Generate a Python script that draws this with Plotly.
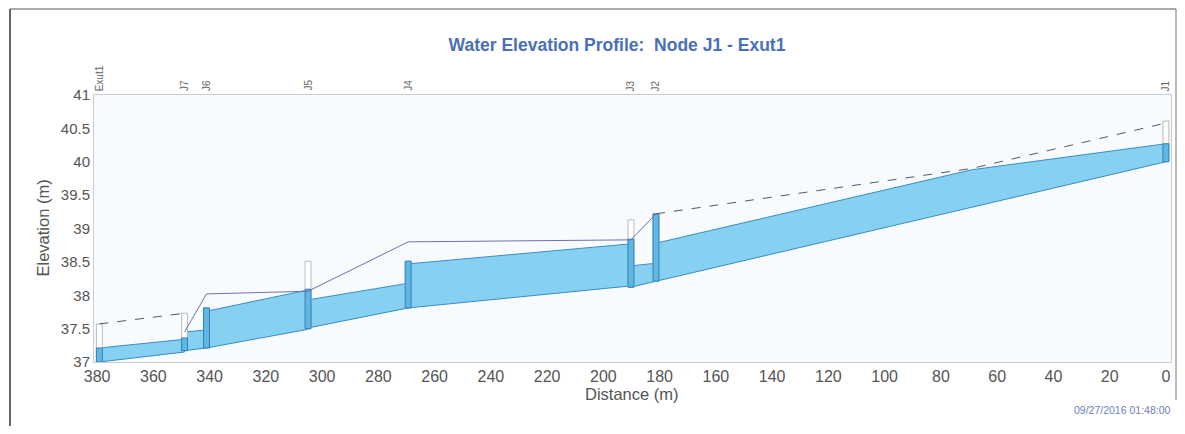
import plotly.graph_objects as go

# ---------------- data ----------------
node_names = ["Exut1", "J7", "J6", "J5", "J4", "J3", "J2", "J1"]
node_dist = [379.2, 348.9, 341.1, 305.0, 269.4, 190.2, 181.3, 0.0]
node_invert = [37.00, 37.17, 37.21, 37.50, 37.81, 38.12, 38.21, 40.00]
node_top = [37.57, 37.73, 37.81, 38.51, 38.51, 39.13, 39.22, 40.61]
node_water = [37.21, 37.36, 37.81, 38.09, 38.51, 38.84, 39.22, 40.27]

# links between consecutive nodes (left node -> right node)
link_inv_left = [37.00, 37.17, 37.21, 37.51, 37.81, 38.12, 38.21]
link_inv_right = [37.15, 37.21, 37.49, 37.81, 38.14, 38.21, 40.00]
link_wl_left = [37.21, 37.45, 37.76, 37.93, 38.47, 38.44, 38.78]
link_wl_right = [37.34, 37.48, 38.08, 38.18, 38.77, 38.48, 40.27]
# intermediate water-surface breakpoint in the last link (J2 - J1)
kink_link = 6
kink_dist = 69.0
kink_wl = 39.88

# thin profile line, in segments
seg_dist = [[379.2, 348.9],
            [348.9, 341.1, 305.0, 269.4, 190.2, 181.3],
            [181.3, 69.0, 0.0]]
seg_elev = [[37.57, 37.73],
            [37.45, 38.02, 38.06, 38.80, 38.83, 39.22],
            [39.22, 39.90, 40.58]]

x_ticks = list(range(0, 381, 20))
y_ticks = [37, 37.5, 38, 38.5, 39, 39.5, 40, 40.5, 41]

title_text = "Water Elevation Profile:  Node J1 - Exut1"
date_text = "09/27/2016 01:48:00"

# ---------------- styles / layout ----------------
OFF = 8                      # page body margin
W, H = 1185 - 2 * OFF, 434 - 2 * OFF
PL, PR, PT, PB = 94, 1171, 95, 362   # plot box in page pixels
ML, MR, MT, MB = PL - OFF, W - (PR - OFF), PT - OFF, H - (PB - OFF)
PW, PH = PR - PL, PB - PT
HALF_W = 1.05  # node box half width (m)
FONT = "Arial, Liberation Sans, sans-serif"
WATER = "#86d0f2"
WATER_EDGE = "#3a8cc4"
NODE_WATER = "#5fb8e3"


def px(xp):
    return (xp - PL) / PW


def py(yp):
    return (PB - yp) / PH


fig = go.Figure()

# links
for i in range(len(link_inv_left)):
    xl, xr = node_dist[i], node_dist[i + 1]
    xs = [xl, xl]
    ys = [link_inv_left[i], link_wl_left[i]]
    if i == kink_link:
        xs.append(kink_dist)
        ys.append(kink_wl)
    xs += [xr, xr, xl]
    ys += [link_wl_right[i], link_inv_right[i], link_inv_left[i]]
    fig.add_trace(go.Scatter(x=xs, y=ys, mode="lines", fill="toself",
                             fillcolor=WATER,
                             line=dict(color=WATER_EDGE, width=1),
                             hoverinfo="skip", showlegend=False))

# nodes: empty boxes and water inside
for i, n in enumerate(node_names):
    x0, x1 = node_dist[i] - HALF_W, node_dist[i] + HALF_W
    fig.add_trace(go.Scatter(
        x=[x0, x0, x1, x1, x0],
        y=[node_invert[i], node_top[i], node_top[i], node_invert[i], node_invert[i]],
        mode="lines", fill="toself", fillcolor="#ffffff",
        line=dict(color="#b9b9b9", width=1), hoverinfo="skip", showlegend=False))
    fig.add_trace(go.Scatter(
        x=[x0, x0, x1, x1, x0],
        y=[node_invert[i], node_water[i], node_water[i], node_invert[i], node_invert[i]],
        mode="lines", fill="toself", fillcolor=NODE_WATER,
        line=dict(color="#2f80b6", width=1), hoverinfo="skip", showlegend=False))

# thin profile line
seg_styles = [dict(color="#555566", width=1, dash="dash"),
              dict(color="#6d6fb0", width=1),
              dict(color="#555577", width=1, dash="dash")]
for d, e, st in zip(seg_dist, seg_elev, seg_styles):
    fig.add_trace(go.Scatter(x=d, y=e, mode="lines", line=st,
                             hoverinfo="skip", showlegend=False))

annotations = []
for i, n in enumerate(node_names):
    annotations.append(dict(x=node_dist[i], y=1.0, xref="x", yref="paper",
                            text=n, textangle=-90, showarrow=False,
                            xanchor="center", yanchor="bottom", yshift=2,
                            font=dict(family=FONT, size=10, color="#666666")))
annotations.append(dict(x=px(632), y=py(394), xref="paper", yref="paper",
                        text="Distance (m)", showarrow=False,
                        xanchor="center", yanchor="middle",
                        font=dict(family=FONT, size=16.5, color="#555555")))
annotations.append(dict(x=px(42), y=0.5, xref="paper", yref="paper",
                        text="Elevation (m)", textangle=-90, showarrow=False,
                        xanchor="center", yanchor="middle",
                        font=dict(family=FONT, size=16.5, color="#555555")))
annotations.append(dict(x=px(1122), y=py(410), xref="paper", yref="paper",
                        text=date_text, showarrow=False,
                        xanchor="center", yanchor="middle",
                        font=dict(family=FONT, size=10.5, color="#6a80c4")))

shapes = [
    dict(type="line", xref="paper", yref="paper", x0=px(10), x1=px(10), y0=py(9), y1=py(440),
         line=dict(color="#333333", width=1.5)),
    dict(type="line", xref="paper", yref="paper", x0=px(10), x1=px(1176), y0=py(9), y1=py(9),
         line=dict(color="#555555", width=1)),
    dict(type="line", xref="paper", yref="paper", x0=px(1176), x1=px(1176), y0=py(9), y1=py(400),
         line=dict(color="#777777", width=1)),
]

fig.update_layout(
    width=W, height=H,
    margin=dict(l=ML, r=MR, t=MT, b=MB),
    paper_bgcolor="#ffffff", plot_bgcolor="#f8fbfe",
    title=dict(text="<b>" + title_text + "</b>", x=(617 - OFF) / W, xanchor="center",
               y=1 - (45 - OFF) / H, yanchor="middle", xref="container", yref="container",
               font=dict(family=FONT, size=17.5, color="#4a70b6")),
    annotations=annotations, shapes=shapes,
    showlegend=False,
)
fig.update_xaxes(range=[381.1, -1.8], tickvals=x_ticks, showgrid=False, zeroline=False,
                 showline=True, mirror=True, linecolor="#c9cdd3", linewidth=1,
                 ticks="", tickfont=dict(family=FONT, size=16, color="#555555"))
fig.update_yaxes(range=[37, 41], tickvals=y_ticks, showgrid=False, zeroline=False,
                 showline=True, mirror=True, linecolor="#c9cdd3", linewidth=1,
                 ticks="", tickfont=dict(family=FONT, size=15, color="#555555"))

fig.write_html("out.html")
